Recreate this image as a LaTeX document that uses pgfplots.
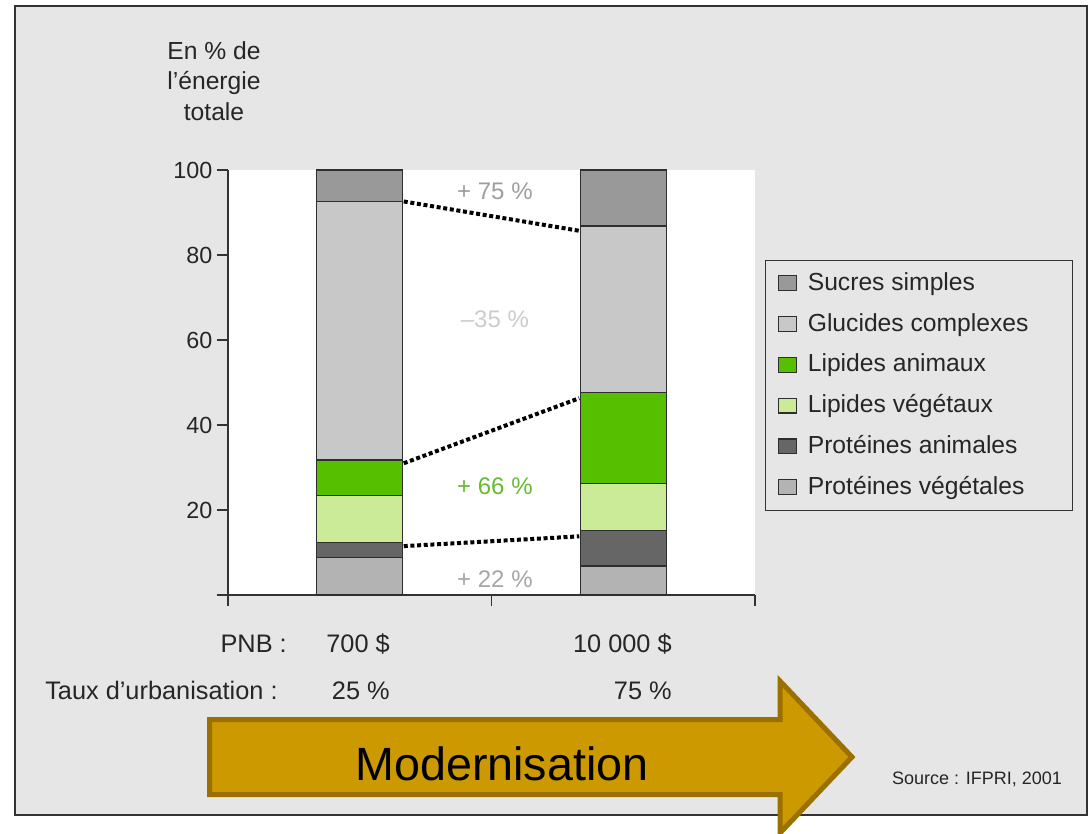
\documentclass[border=0pt]{standalone}
\usepackage{fontspec}
\setmainfont{Liberation Sans}
\usepackage{pgfplots}
\usepackage{pgfplotstable}
\pgfplotsset{compat=1.18}

\definecolor{panel}{HTML}{E6E6E6}
\definecolor{panelline}{HTML}{333333}
\definecolor{edge}{HTML}{2E2E2E}
\definecolor{csucr}{HTML}{999999}
\definecolor{cgluc}{HTML}{C8C8C8}
\definecolor{clanim}{HTML}{55BF00}
\definecolor{clveg}{HTML}{CCEB99}
\definecolor{cpanim}{HTML}{666666}
\definecolor{cpveg}{HTML}{B3B3B3}
\definecolor{arrowfill}{HTML}{CC9900}
\definecolor{arrowline}{HTML}{9A7000}

% Energy shares (% of total energy) for the two income levels
\pgfplotstableread{
x    pveg  panim  lveg  lanim  gluc  sucr
0.5  8.8   3.6    11.0  8.4    60.8  7.4
1.5  6.8   8.4    11.0  21.4   39.2  13.2
}\energie

\begin{document}
\begin{tikzpicture}
\useasboundingbox (0pt,0pt) rectangle (817.5pt,-624.75pt);

% background panel and vertical title (pixel grid, y downwards)
\begin{scope}[x=0.75pt,y=-0.75pt]
  \fill[white] (0,0) rectangle (1090,833);
  \draw[fill=panel, draw=panelline, line width=1.5pt] (15,6) rectangle (1087,815);
  \begin{scope}[every node/.style={font=\fontsize{18.5}{22}\selectfont, anchor=base, inner sep=0pt, text=black!85}]
    \node at (214,59) {En \% de};
    \node at (214,89) {l’énergie};
    \node at (214,120) {totale};
  \end{scope}
\end{scope}

\begin{axis}[
  at={(171pt,-446.25pt)}, anchor=south west,
  scale only axis, width=395.25pt, height=318.75pt,
  xmin=0, xmax=2, ymin=0, ymax=100,
  ybar stacked, bar width=64.5pt,
  axis background/.style={fill=white},
  axis x line*=bottom, axis y line*=left,
  axis line style={draw=panelline, line width=1.1pt},
  tick style={draw=panelline, line width=1.1pt},
  tick align=outside, major tick length=8.25pt,
  xtick={0,1,2}, xticklabels={},
  ytick={0,20,...,100}, yticklabels={,20,40,60,80,100},
  /pgf/number format/assume math mode=true,
  yticklabel style={font=\fontsize{17.5}{20}\selectfont, text=black!85},
  clip=false,
  reverse legend,
  legend style={
    at={(1.019,0.788)}, anchor=north west,
    draw=panelline, line width=0.9pt, fill=panel,
    font=\fontsize{18.5}{22}\selectfont,
    inner xsep=9pt, inner ysep=8.25pt,
    row sep=12.6pt,
    nodes={inner sep=0pt, text height=14pt, text depth=4pt, text=black!85},
    /tikz/every odd column/.append style={column sep=8.25pt},
  },
  legend cell align=left,
  legend image code/.code={\draw[#1, line width=0.9pt] (0pt,-5.2pt) rectangle (13.5pt,6pt);},
]
\addplot[fill=cpveg, draw=edge, line width=1.1pt] table[x=x, y=pveg]{\energie};
\addlegendentry{Protéines végétales}
\addplot[fill=cpanim, draw=edge, line width=1.1pt] table[x=x, y=panim]{\energie};
\addlegendentry{Protéines animales}
\addplot[fill=clveg, draw=edge, line width=1.1pt] table[x=x, y=lveg]{\energie};
\addlegendentry{Lipides végétaux}
\addplot[fill=clanim, draw=edge, line width=1.1pt] table[x=x, y=lanim]{\energie};
\addlegendentry{Lipides animaux}
\addplot[fill=cgluc, draw=edge, line width=1.1pt] table[x=x, y=gluc]{\energie};
\addlegendentry{Glucides complexes\hspace*{24pt}}
\addplot[fill=csucr, draw=edge, line width=1.1pt] table[x=x, y=sucr]{\energie};
\addlegendentry{Sucres simples}
\end{axis}

% connecting dotted lines and change labels
\begin{axis}[
  at={(171pt,-446.25pt)}, anchor=south west,
  scale only axis, width=395.25pt, height=318.75pt,
  xmin=0, xmax=2, ymin=0, ymax=100,
  hide axis, clip=false,
]
\addplot[black, line width=3pt, dash pattern=on 3pt off 2pt] coordinates {(0.667,92.6) (1.333,85.7)};
\addplot[black, line width=3pt, dash pattern=on 3pt off 2pt] coordinates {(0.667,31.0) (1.333,46.3)};
\addplot[black, line width=3pt, dash pattern=on 3pt off 2pt] coordinates {(0.667,11.5) (1.333,13.8)};
\node[font=\fontsize{18}{20}\selectfont, text=black!38] at (axis cs:1.013,95.1) {+ 75 \%};
\node[font=\fontsize{18}{20}\selectfont, text=black!20] at (axis cs:1.013,65.0) {–35 \%};
\node[font=\fontsize{18}{20}\selectfont, text={rgb,255:red,102;green,187;blue,51}] at (axis cs:1.013,25.5) {+ 66 \%};
\node[font=\fontsize{18}{20}\selectfont, text=black!35] at (axis cs:1.013,3.7) {+ 22 \%};
\end{axis}

% income and urbanisation rows, arrow, source
\begin{scope}[x=0.75pt,y=-0.75pt]
  \begin{scope}[every node/.style={font=\fontsize{19}{22}\selectfont, inner sep=0pt, text=black!85}]
    \node[anchor=base east] at (287,652) {PNB :};
    \node[anchor=base east] at (390,652) {700 \$};
    \node[anchor=base east] at (672,652) {10 000 \$};
    \node[anchor=base west] at (45,699) {Taux d’urbanisation :};
    \node[anchor=base east] at (390,699) {25 \%};
    \node[anchor=base east] at (672,699) {75 \%};
  \end{scope}
  \begin{scope}
    \clip (0,0) rectangle (1090,833);
    \draw[fill=arrowfill, draw=arrowline, line width=3.75pt, line join=miter]
      (209.5,719.5) -- (780,719.5) -- (780,681) -- (852,757) -- (780,833)
      -- (780,794.5) -- (209.5,794.5) -- cycle;
  \end{scope}
  \node[font=\fontsize{35}{40}\selectfont, anchor=base, inner sep=0pt] at (502,780) {Modernisation};
  \node[font=\fontsize{13.5}{16}\selectfont, anchor=base, inner sep=0pt, text=black!85] at (977,784) {Source : IFPRI, 2001};
\end{scope}
\end{tikzpicture}
\end{document}
